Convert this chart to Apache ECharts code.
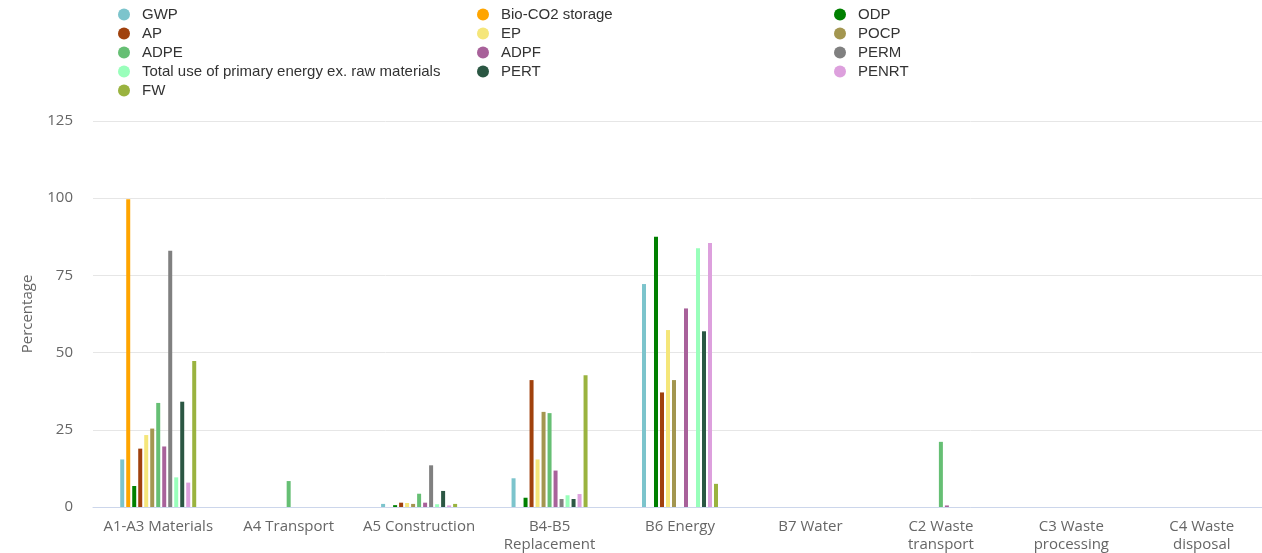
<!DOCTYPE html>
<html lang="en">
<head>
	<meta charset="UTF-8">
	<title>Percentage by stage</title>
	<script src="https://cdn.jsdelivr.net/npm/echarts@6/dist/echarts.min.js"></script>
	<style>
		html, body { margin: 0; padding: 0; background: #fff; }
		#charts { width: 1262px; height: 553px; }
	</style>
</head>
<body>
<div id="charts"></div>
<script>
	// stages on the x axis
	var categories = ['A1-A3 Materials', 'A4 Transport', 'A5 Construction', 'B4-B5\nReplacement', 'B6 Energy',
		'B7 Water', 'C2 Waste\ntransport', 'C3 Waste\nprocessing', 'C4 Waste\ndisposal'];
	var yTicks = [0, 25, 50, 75, 100, 125];

	// one array per indicator, same order as categories
	var gwp    = [15.4, 0,   1.0, 9.3,  72.2, 0, 0,    0, 0];
	var bioCo2 = [99.7, 0,   0,   0,    0,    0, 0,    0, 0];
	var odp    = [6.8,  0,   0.6, 3.0,  87.5, 0, 0,    0, 0];
	var ap     = [18.9, 0,   1.4, 41.1, 37.1, 0, 0,    0, 0];
	var ep     = [23.3, 0,   1.3, 15.4, 57.3, 0, 0,    0, 0];
	var pocp   = [25.4, 0,   1.0, 30.8, 41.1, 0, 0,    0, 0];
	var adpe   = [33.7, 8.4, 4.3, 30.4, 0,    0, 21.1, 0, 0];
	var adpf   = [19.6, 0,   1.4, 11.8, 64.3, 0, 0.5,  0, 0];
	var perm   = [83.0, 0,   13.5, 2.6, 0,    0, 0,    0, 0];
	var totalPe = [9.6, 0,   0.9, 3.8,  83.8, 0, 0,    0, 0];
	var pert   = [34.1, 0,   5.2, 2.6,  56.9, 0, 0,    0, 0];
	var penrt  = [7.9,  0,   0.5, 4.2,  85.5, 0, 0,    0, 0];
	var fw     = [47.3, 0,   1.0, 42.7, 7.5,  0, 0,    0, 0];

	var seriesNames = ['GWP', 'Bio-CO2 storage', 'ODP', 'AP', 'EP', 'POCP', 'ADPE', 'ADPF', 'PERM',
		'Total use of primary energy ex. raw materials', 'PERT', 'PENRT', 'FW'];
	var seriesData = [gwp, bioCo2, odp, ap, ep, pocp, adpe, adpf, perm, totalPe, pert, penrt, fw];
	var colors = ['#7cc4cc', '#ffa500', '#008000', '#a0410d', '#f5e67a', '#a39650', '#66bf74', '#a8619a',
		'#808080', '#99ffbb', '#2b5743', '#dda0dd', '#9ab33f'];

	var charts = echarts.init(document.getElementById('charts'));

	function legendCol(left, names) {
		return {
			orient: 'vertical',
			left: left,
			top: 2,
			icon: 'circle',
			itemWidth: 26,
			itemHeight: 12,
			itemGap: 4,
			selectedMode: false,
			textStyle: {
				color: '#333333',
				fontSize: 15,
				lineHeight: 15,
				fontFamily: 'Liberation Sans, Arial, sans-serif'
			},
			data: names
		};
	}

	var series = [];
	for (var i = 0; i < seriesNames.length; i++) {
		series.push({
			name: seriesNames[i],
			type: 'bar',
			barWidth: 4,
			barGap: '50%',
			itemStyle: { color: colors[i] },
			data: seriesData[i]
		});
	}

	charts.setOption({
		animation: false,
		color: colors,
		legend: [
			legendCol(113, ['GWP', 'AP', 'ADPE', 'Total use of primary energy ex. raw materials', 'FW']),
			legendCol(472, ['Bio-CO2 storage', 'EP', 'ADPF', 'PERT']),
			legendCol(829, ['ODP', 'POCP', 'PERM', 'PENRT'])
		],
		grid: {
			left: 93,
			top: 121,
			width: 1174,
			height: 386,
			outerBoundsMode: 'none'
		},
		xAxis: {
			type: 'category',
			data: categories,
			axisLine: { lineStyle: { color: '#ccd6eb' } },
			axisTick: { show: false },
			axisLabel: {
				color: '#666666',
				fontSize: 15,
				lineHeight: 18,
				margin: 11,
				interval: 0,
				fontFamily: 'Open Sans, sans-serif'
			}
		},
		yAxis: {
			type: 'value',
			min: yTicks[0],
			max: yTicks[yTicks.length - 1],
			interval: 25,
			name: 'Percentage',
			nameLocation: 'middle',
			nameGap: 58,
			nameTextStyle: { color: '#666666', fontSize: 15, fontFamily: 'Open Sans, sans-serif' },
			splitLine: { lineStyle: { color: '#e6e6e6' } },
			axisLabel: {
				color: '#666666',
				fontSize: 15,
				margin: 20,
				fontFamily: 'Open Sans, sans-serif'
			}
		},
		series: series
	});
</script>
</body>
</html>
